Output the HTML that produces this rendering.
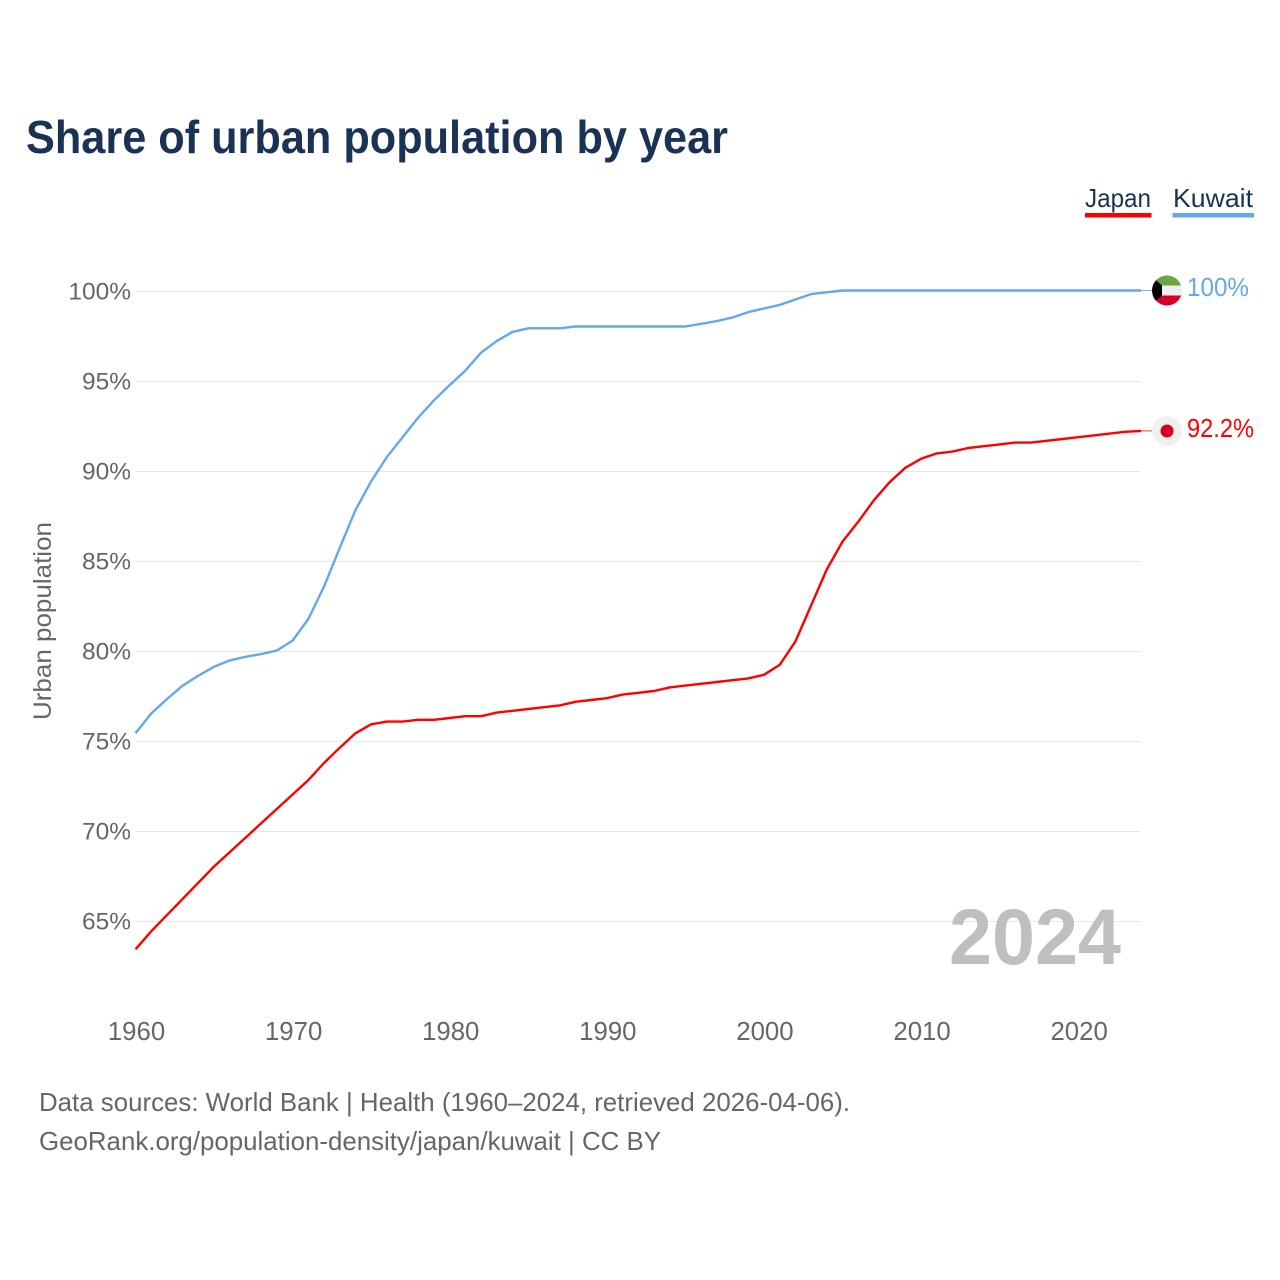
<!DOCTYPE html>
<html lang="en">
<head>
<meta charset="utf-8">
<title>Share of urban population by year</title>
<style>
html,body{margin:0;padding:0;background:#fff;width:1280px;height:1280px;overflow:hidden}
svg{display:block;font-family:"Liberation Sans",sans-serif}
</style>
</head>
<body>
<svg id="chart" width="1280" height="1280" viewBox="0 0 1280 1280" xmlns="http://www.w3.org/2000/svg">
  <rect width="1280" height="1280" fill="#fff"/>
  <text x="26" y="153" font-size="46" font-weight="700" fill="#1a3355" textLength="702" lengthAdjust="spacingAndGlyphs">Share of urban population by year</text>

  <g>
    <g>
      <text x="1085" y="207" font-size="26" fill="#1a3355" textLength="66" lengthAdjust="spacingAndGlyphs">Japan</text>
      <rect x="1085" y="213" width="66.5" height="4.5" fill="#ff0000"/>
    </g>
    <g>
      <text x="1173" y="207" font-size="26" fill="#1a3355" textLength="80" lengthAdjust="spacingAndGlyphs">Kuwait</text>
      <rect x="1172.5" y="213" width="81.5" height="4.5" fill="#63a8ed"/>
    </g>
  </g>

  <g id="grid"></g>
  <g id="yticks"></g>
  <g id="xticks"></g>
  <text transform="translate(51,621) rotate(-90)" text-anchor="middle" font-size="25" fill="#666" textLength="198" lengthAdjust="spacingAndGlyphs">Urban population</text>

  <text x="949" y="964" font-size="79" font-weight="700" fill="#bfbfbf" textLength="172" lengthAdjust="spacingAndGlyphs">2024</text>
  <g id="series"></g>

  <g>
    <defs><clipPath id="kw-clip"><circle cx="1167" cy="290.5" r="15"/></clipPath></defs>
    <g clip-path="url(#kw-clip)">
      <rect x="1152" y="275" width="30" height="10.5" fill="#6da544"/>
      <rect x="1152" y="285.5" width="30" height="10" fill="#f0f0f0"/>
      <rect x="1152" y="295.5" width="30" height="11" fill="#d80027"/>
      <path d="M1150 275 L1162 285.5 V295.5 L1150 306 Z" fill="#000"/>
    </g>
    <text x="1187" y="296" font-size="25.5" fill="#63a8ed" textLength="62" lengthAdjust="spacingAndGlyphs">100%</text>
  </g>
  <g>
    <circle cx="1167" cy="431" r="15" fill="#f0f0f0"/>
    <circle cx="1167" cy="431" r="6.5" fill="#d80027"/>
    <text x="1187" y="437" font-size="25.5" fill="#ff0000" textLength="67" lengthAdjust="spacingAndGlyphs">92.2%</text>
  </g>

  <g font-size="26" fill="#666">
    <text x="39" y="1111" textLength="811" lengthAdjust="spacingAndGlyphs">Data sources: World Bank | Health (1960–2024, retrieved 2026-04-06).</text>
    <text x="39" y="1150" textLength="622" lengthAdjust="spacingAndGlyphs">GeoRank.org/population-density/japan/kuwait | CC BY</text>
  </g>
</svg>
<script>
const years = [1960,1961,1962,1963,1964,1965,1966,1967,1968,1969,1970,1971,1972,1973,1974,1975,1976,1977,1978,1979,1980,1981,1982,1983,1984,1985,1986,1987,1988,1989,1990,1991,1992,1993,1994,1995,1996,1997,1998,1999,2000,2001,2002,2003,2004,2005,2006,2007,2008,2009,2010,2011,2012,2013,2014,2015,2016,2017,2018,2019,2020,2021,2022,2023,2024];
const kuwaitValues = [75.4,76.5,77.3,78.05,78.6,79.1,79.45,79.65,79.8,80,80.55,81.75,83.55,85.7,87.8,89.4,90.75,91.85,92.95,93.9,94.75,95.55,96.55,97.2,97.7,97.9,97.9,97.9,98,98,98,98,98,98,98,98,98.15,98.3,98.5,98.8,99,99.2,99.5,99.8,99.9,100,100,100,100,100,100,100,100,100,100,100,100,100,100,100,100,100,100,100,100];
const japanValues = [63.4,64.4,65.3,66.2,67.1,68,68.8,69.6,70.4,71.2,72,72.8,73.75,74.6,75.4,75.9,76.05,76.05,76.15,76.15,76.25,76.35,76.35,76.55,76.65,76.75,76.85,76.95,77.15,77.25,77.35,77.55,77.65,77.75,77.95,78.05,78.15,78.25,78.35,78.45,78.65,79.2,80.5,82.5,84.5,86.05,87.15,88.35,89.35,90.15,90.65,90.95,91.05,91.25,91.35,91.45,91.55,91.55,91.65,91.75,91.85,91.95,92.05,92.15,92.2];
const yTicks = [65,70,75,80,85,90,95,100];
const xTicks = [1960,1970,1980,1990,2000,2010,2020];

const NS = 'http://www.w3.org/2000/svg';
function xScale(year){ return 135.5 + (year - 1960) * (1141 - 135.5) / 64; }
function yScale(v){ return 291 + (100 - v) * 18; }
function make(tag, attrs, text){
  const el = document.createElementNS(NS, tag);
  for (const k in attrs) el.setAttribute(k, attrs[k]);
  if (text !== undefined) el.textContent = text;
  return el;
}
const gridG = document.getElementById('grid');
const yG = document.getElementById('yticks');
const xG = document.getElementById('xticks');
const seriesG = document.getElementById('series');

yTicks.forEach(function(t){
  const line = make('line', {x1:135.5, x2:1141, y1:yScale(t)+0.5, y2:yScale(t)+0.5, stroke:'#e8e8e8', 'stroke-width':1});
  
  
  gridG.appendChild(line);
  const label = make('text', {x:131, y:yScale(t)+8.5, 'text-anchor':'end', 'font-size':24.5, fill:'#666'}, t + '%');
  
  
  yG.appendChild(label);
});
xTicks.forEach(function(t){
  const label = make('text', {x:xScale(t)+1, y:1040, 'text-anchor':'middle', 'font-size':25.8, fill:'#666'}, String(t));
  
  
  xG.appendChild(label);
});
function drawSeries(name, values, color){
  const pts = values.map(function(v, i){ return xScale(years[i]).toFixed(2) + ',' + (yScale(v) - 0.5).toFixed(2); }).join(' ');
  const line = make('polyline', {points:pts, fill:'none', stroke:color, 'stroke-width':2.4, 'stroke-linejoin':'round'});
  
  
  seriesG.appendChild(line);
  const last = values[values.length - 1];
  const stub = make('line', {x1:xScale(years[years.length-1]), x2:1152, y1:yScale(last)-0.5, y2:yScale(last)-0.5, stroke:color, 'stroke-width':1, opacity:0.8});
  
  
  seriesG.appendChild(stub);
}
drawSeries('kuwait', kuwaitValues, '#63a8ed');
drawSeries('japan', japanValues, '#ff0000');
</script>
</body>
</html>
